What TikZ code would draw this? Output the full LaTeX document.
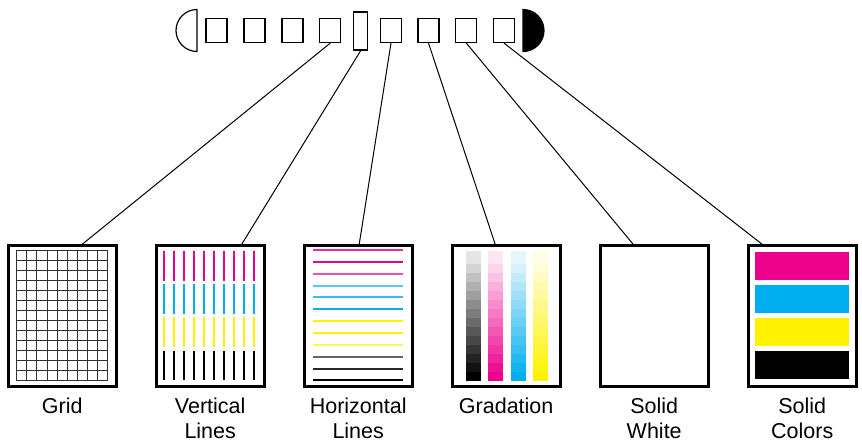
\documentclass[tikz,border=0pt]{standalone}
\usepackage{fontspec}
\setmainfont{Liberation Sans}
\usetikzlibrary{positioning}
\definecolor{inkmagenta}{RGB}{236,0,140}
\definecolor{inkcyan}{RGB}{0,174,239}
\definecolor{inkyellow}{RGB}{255,242,0}
\definecolor{gridgray}{RGB}{50,50,50}
\definecolor{magA}{RGB}{240,40,160}
\definecolor{magB}{RGB}{242,80,170}
\definecolor{cyaA}{RGB}{90,200,240}
\definecolor{cyaB}{RGB}{50,190,240}
\definecolor{yelA}{RGB}{255,246,90}
\definecolor{blkA}{RGB}{100,100,100}
\definecolor{blkB}{RGB}{40,40,40}

\begin{document}
\begin{tikzpicture}[x=1pt,y=-1pt,
	pad/.style={draw, line width=1.2pt, minimum width=21pt, minimum height=24pt, inner sep=0pt},
	sheet/.style={draw, line width=3pt, minimum width=108pt, minimum height=141pt, inner sep=0pt},
	caption/.style={anchor=north, inner sep=0pt, align=center, font=\fontsize{21.5}{25.5}\selectfont},
	wire/.style={line width=1pt}]
			\useasboundingbox (0,0) rectangle (862,442);
			\pgfmathsetmacro{\SheetY}{316.3}
			\pgfmathsetmacro{\PadY}{30.5}
			\pgfmathsetmacro{\CapRadius}{21}
			
			% connector strip
			\draw[line width=1.2pt] (197,9.5) arc[start angle=270, end angle=90, radius=\CapRadius] -- cycle;
			\filldraw[line width=1.2pt] (523,9.5) arc[start angle=270, end angle=450, radius=\CapRadius] -- cycle;
			\foreach \n/\x in {1/216.5, 2/254.5, 3/292.5, 4/330.3, 5/391, 6/428.5, 7/466.3, 8/504}
				\node[pad] (sq\n) at (\x,\PadY) {};
			\node[pad, minimum width=14pt, minimum height=38pt] (slot) at (360.7,31) {};
			
			% test sheets
			\node[sheet] (grid) at (62.2,\SheetY) {};
			\node[sheet] (vert) at (210.2,\SheetY) {};
			\node[sheet] (horiz) at (358.2,\SheetY) {};
			\node[sheet] (grad) at (506.2,\SheetY) {};
			\node[sheet] (white) at (654.2,\SheetY) {};
			\node[sheet] (solid) at (802.2,\SheetY) {};
			
			\node[caption, below=9pt of grid] (gridcap) {Grid};
			\node[caption, below=9pt of vert] (vertcap) {Vertical\\Lines};
			\node[caption, below=9pt of horiz] (horizcap) {Horizontal\\Lines};
			\node[caption, below=9pt of grad] (gradcap) {Gradation};
			\node[caption, below=9pt of white] (whitecap) {Solid\\White};
			\node[caption, below=9pt of solid] (solidcap) {Solid\\Colors};
			
			\draw[wire] (sq4.south) -- ([xshift=20pt]grid.north);
			\draw[wire] (slot.south) -- ([xshift=31.5pt]vert.north);
			\draw[wire] (sq5.south) -- ([xshift=1pt]horiz.north);
			\draw[wire] (sq6.south) -- ([xshift=-11pt]grad.north);
			\draw[wire] (sq7.south) -- ([xshift=-21pt]white.north);
			\draw[wire] (sq8.south) -- ([xshift=-40pt]solid.north);
			
			% grid
			\foreach \i in {0,...,9}
				\draw[gridgray, line width=1pt] ({16.7+10.1*\i},250) -- ({16.7+10.1*\i},380.7);
			\foreach \j in {0,...,13}
				\draw[gridgray, line width=1pt] (16.7,{250+10.05*\j}) -- (107.6,{250+10.05*\j});
			
			% vertical lines
			\foreach \c/\y in {inkmagenta/251, inkcyan/284.2, inkyellow/317.4, black/350.6}
				\foreach \i in {0,...,9}
					\draw[draw=\c, line width=1.2pt] ({164+10*\i},\y) -- ++(0,29.5);
			
			% horizontal lines
			\foreach \c/\y in {magA/250, inkmagenta/262, magB/274, cyaA/286, cyaB/297, inkcyan/309,
					inkyellow/321, inkyellow/333, yelA/345, blkA/357, blkB/369, black/380}
				\draw[draw=\c, line width=1.5pt] (313.3,\y) -- (403.3,\y);
			
			% gradation
			\foreach \c/\x in {black/466, inkmagenta/488, inkcyan/511, inkyellow/533} {
				\fill[\c!10!white] (\x,251) rectangle ++(15,13);
				\foreach \i in {1,...,13} {
					\pgfmathsetmacro{\pct}{10+90*\i/13}
					\fill[\c!\pct!white] (\x,{255+9*\i}) rectangle ++(15,9);
				}
			}
			
			% solid colors
			\fill[inkmagenta] (755,251.7) rectangle (849,279.7);
			\fill[inkcyan] (755,285) rectangle (849,313);
			\fill[inkyellow] (755,318) rectangle (849,345.7);
			\fill[black] (755,351) rectangle (849,379);
		\end{tikzpicture}
\end{document}
